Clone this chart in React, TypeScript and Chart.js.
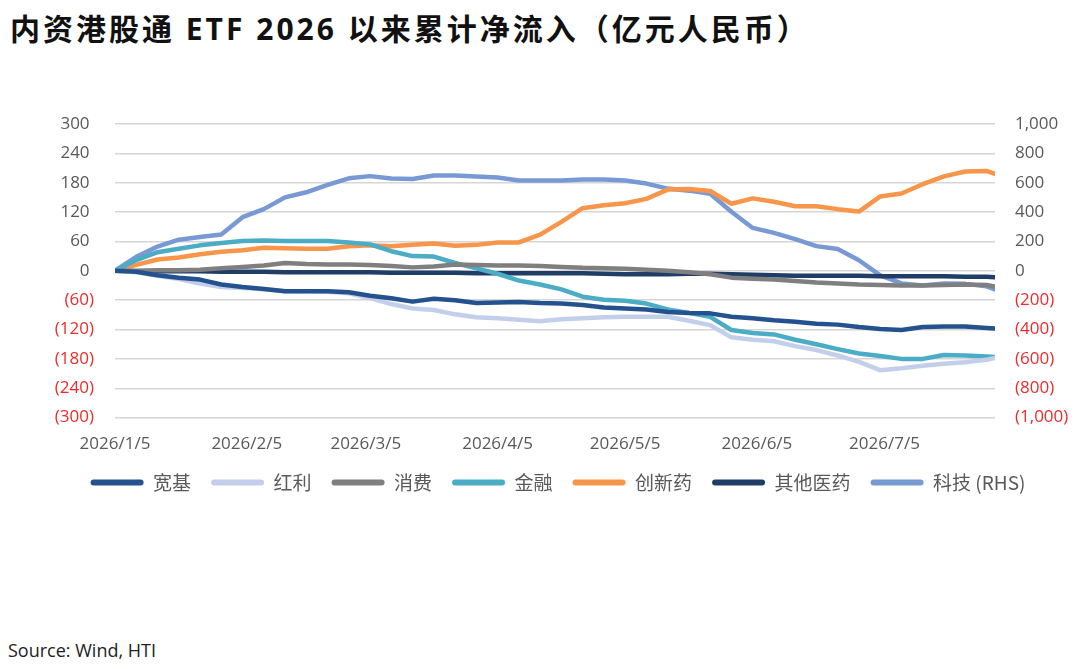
import React, { useEffect, useRef } from "react";
import { Chart, registerables } from "chart.js";

Chart.register(...registerables);

// days since 2026/1/5
const DAYS = [
	0, 5, 10, 15, 20, 25, 30, 35, 40, 45, 50, 55, 60, 65, 70, 75, 80, 85, 90, 95, 100,
	105, 110, 115, 120, 125, 130, 135, 140, 145, 150, 155, 160, 165, 170, 175, 180,
	185, 190, 195, 200, 205, 207,
];
const TICK_DAYS = [0, 31, 59, 90, 120, 151, 181];
const TICK_LABELS = ["2026/1/5", "2026/2/5", "2026/3/5", "2026/4/5", "2026/5/5", "2026/6/5", "2026/7/5"];

const KUANJI = [0, -2, -9, -14, -18, -28, -33, -37, -42, -42, -42, -44, -51, -56, -63, -57, -60, -66, -65, -64, -66, -67, -70, -75, -77, -79, -84, -86, -87, -94, -97, -101, -104, -108, -110, -115, -119, -121, -115, -114, -114, -117, -118];
const HONGLI = [0, -3, -10, -17, -26, -33, -35, -37, -42, -42, -43, -46, -56, -68, -77, -80, -89, -95, -97, -100, -103, -99, -97, -95, -94, -94, -94, -102, -111, -136, -141, -144, -154, -162, -173, -186, -203, -199, -194, -190, -187, -182, -178];
const XIAOFEI = [0, 0, 1, 1, 2, 5, 8, 11, 16, 14, 13, 13, 12, 10, 7, 9, 13, 12, 11, 11, 10, 8, 6, 5, 4, 2, 0, -3, -7, -14, -16, -18, -21, -24, -26, -28, -29, -30, -30, -29, -28, -29, -32];
const JINRONG = [0, 22, 38, 45, 52, 57, 61, 62, 61, 61, 61, 58, 54, 40, 30, 29, 16, 5, -6, -20, -28, -38, -53, -59, -61, -67, -79, -86, -94, -121, -127, -130, -141, -150, -160, -169, -174, -180, -180, -172, -173, -175, -176];
const CHUANGXINYAO = [0, 12, 23, 27, 34, 39, 42, 47, 46, 45, 45, 50, 52, 50, 53, 56, 51, 53, 58, 58, 74, 100, 128, 134, 138, 147, 166, 167, 163, 137, 148, 141, 132, 132, 126, 121, 152, 158, 177, 193, 203, 204, 198];
const QITAYIYAO = [0, -1, -1, -1, -1, -2, -2, -2, -3, -3, -3, -3, -3, -4, -4, -4, -4, -5, -5, -5, -5, -5, -5, -6, -7, -7, -7, -6, -6, -7, -8, -9, -10, -10, -10, -10, -11, -11, -11, -11, -12, -12, -13];
const KEJI_RHS = [0, 95, 165, 212, 230, 248, 365, 420, 500, 535, 585, 630, 645, 628, 626, 649, 649, 642, 635, 615, 615, 615, 622, 622, 615, 594, 560, 546, 525, 402, 292, 258, 216, 168, 148, 72, -31, -86, -100, -86, -89, -106, -127];

const GRAY = "#595959";
const RED = "#EE2B2B";

const fmt = (v: number) => Math.abs(v).toLocaleString("en-US");

const App: React.FC = () => {
	const chartRef = useRef<HTMLCanvasElement>(null);
	const chartInstance = useRef<Chart | null>(null);

	useEffect(() => {
		document.body.style.margin = "0";
		if (!chartRef.current) return;
		if (chartInstance.current) chartInstance.current.destroy();

		const line = (label: string, data: number[], color: string, axis = "y") => ({
			label,
			data,
			yAxisID: axis,
			borderColor: color,
			backgroundColor: color,
			borderWidth: 4.5,
			pointRadius: 0,
			tension: 0,
			borderCapStyle: "round" as const,
			borderJoinStyle: "round" as const,
		});

		chartInstance.current = new Chart(chartRef.current, {
			type: "line",
			data: {
				labels: DAYS,
				datasets: [
					line("宽基", KUANJI, "#24528F"),
					line("红利", HONGLI, "#C3CFEA"),
					line("消费", XIAOFEI, "#7F7F7F"),
					line("金融", JINRONG, "#4AACC5"),
					line("创新药", CHUANGXINYAO, "#F7964A"),
					line("其他医药", QITAYIYAO, "#203D68"),
					line("科技 (RHS)", KEJI_RHS, "#7899D4", "y1"),
				],
			},
			options: {
				animation: false,
				responsive: true,
				maintainAspectRatio: false,
				layout: { padding: { left: 36, right: 0, top: 124, bottom: 28 } },
				plugins: {
					tooltip: { enabled: false },
					legend: {
						position: "bottom",
						labels: {
							boxWidth: 53,
							boxHeight: 6,
							useBorderRadius: true,
							borderRadius: 3,
							padding: 20,
							color: GRAY,
							font: { family: "'Noto Sans CJK SC'", size: 19 },
							generateLabels: (chart) =>
								chart.data.datasets.map((ds: any, i: number) => ({
									text: ds.label,
									fillStyle: ds.borderColor,
									strokeStyle: ds.borderColor,
									lineWidth: 0,
									hidden: false,
									datasetIndex: i,
									borderRadius: 3,
									fontColor: GRAY,
								})),
						},
					},
				},
				scales: {
					x: {
						type: "linear",
						min: 0,
						max: 207,
						afterBuildTicks: (scale) => {
							scale.ticks = TICK_DAYS.map((v) => ({ value: v }));
						},
						afterFit: (scale) => {
							scale.height -= 17;
						},
						ticks: {
							autoSkip: false,
							maxRotation: 0,
							padding: 16,
							color: GRAY,
							font: { family: "'Open Sans'", size: 17 },
							callback: (v) => TICK_LABELS[TICK_DAYS.indexOf(Number(v))] ?? "",
						},
						grid: { display: false, drawTicks: false },
						border: { display: false },
					},
					y: {
						position: "left",
						min: -300,
						max: 300,
						afterFit: (scale) => {
							scale.width = 79;
						},
						ticks: {
							stepSize: 60,
							padding: 21,
							font: { family: "'Open Sans'", size: 17 },
							color: (ctx) => (ctx.tick && ctx.tick.value < 0 ? RED : GRAY),
							callback: (v) => (Number(v) < 0 ? `(${fmt(Number(v))})` : `${fmt(Number(v))} `),
						},
						grid: { color: "#D6D6D6", lineWidth: 1.4, drawTicks: false },
						border: { display: false },
					},
					y1: {
						position: "right",
						min: -1000,
						max: 1000,
						afterFit: (scale) => {
							scale.width = 85;
						},
						ticks: {
							stepSize: 200,
							padding: 20,
							font: { family: "'Open Sans'", size: 17 },
							color: (ctx) => (ctx.tick && ctx.tick.value < 0 ? RED : GRAY),
							callback: (v) => (Number(v) < 0 ? `(${fmt(Number(v))})` : fmt(Number(v))),
						},
						grid: { drawOnChartArea: false, drawTicks: false },
						border: { display: false },
					},
				},
			},
		});

		return () => {
			if (chartInstance.current) {
				chartInstance.current.destroy();
				chartInstance.current = null;
			}
		};
	}, []);

	return (
		<div style={{ position: "relative", width: 1080, height: 669, background: "#fff", overflow: "hidden" }}>
			<div
				style={{
					position: "absolute",
					left: 10,
					top: 5,
					font: "bold 30px 'Open Sans', 'Noto Sans CJK SC'",
					letterSpacing: "3px",
					color: "#111",
					whiteSpace: "nowrap",
				}}
			>
				内资港股通 ETF 2026 以来累计净流入（亿元人民币）
			</div>
			<div style={{ position: "absolute", left: 0, top: 0, width: 1080, height: 530 }}>
				<canvas ref={chartRef}></canvas>
			</div>
			<div
				style={{
					position: "absolute",
					left: 8,
					top: 638,
					font: "18px 'Open Sans'",
					color: "#222",
					whiteSpace: "nowrap",
				}}
			>
				Source: Wind, HTI
			</div>
		</div>
	);
};

export default App;
